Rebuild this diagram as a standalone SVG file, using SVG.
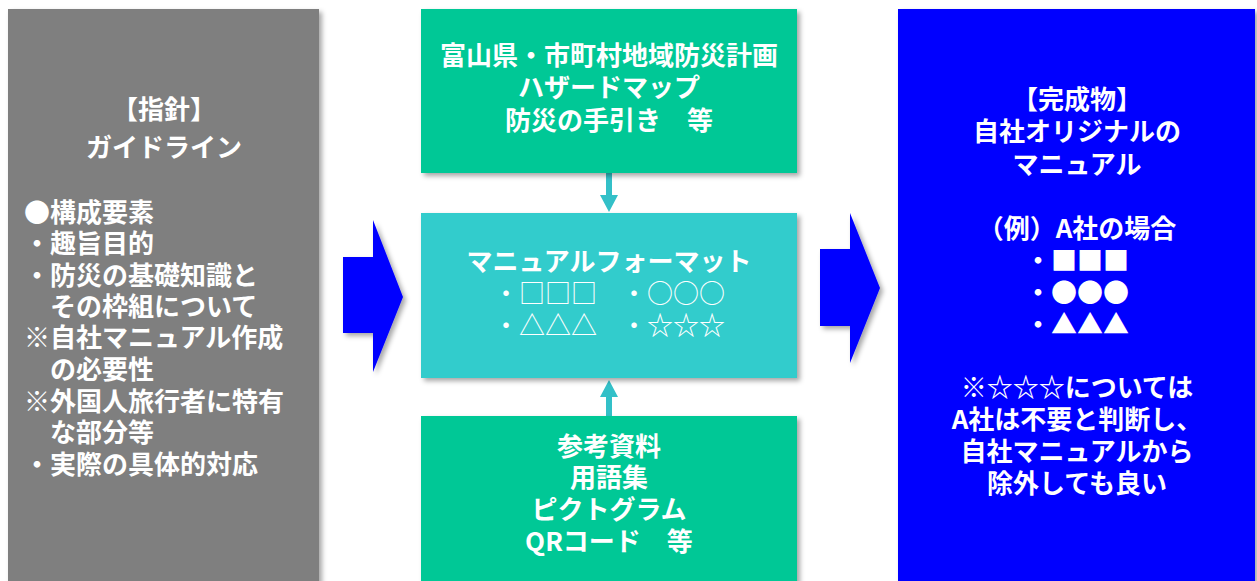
<svg xmlns="http://www.w3.org/2000/svg" width="1257" height="581" viewBox="0 0 1257 581">
<defs>
<filter id="sh" x="-10%" y="-10%" width="130%" height="130%">
<feDropShadow dx="3" dy="3" stdDeviation="2.5" flood-color="#000" flood-opacity="0.35"/>
</filter>
<style>
text{font-family:"Noto Sans CJK JP","Noto Sans CJK SC",sans-serif;fill:#fff;font-size:26px;font-weight:bold}
.c{text-anchor:middle}
.n{font-weight:normal}
.gray{fill:#7f7f7f}
.green{fill:#00c896}
.cyan{fill:#33cccc}
.blue{fill:#0000ff}
.arr{fill:#0000ff}
.small{fill:#33c0c8}
</style>
</defs>
<rect width="1257" height="581" fill="#fff"/>
<g id="connectors">
<polygon class="arr" filter="url(#sh)" points="343,257 373,257 373,220 403,297 373,372 373,333 343,333"/>
<polygon class="arr" filter="url(#sh)" points="820,249 850,249 850,213 880,288 850,363 850,326 820,326"/>
<polygon class="small" points="606,173 612,173 612,195 618,195 609,212 600,195 606,195"/>
<polygon class="small" points="606,416 612,416 612,397 618,397 609,380 600,397 606,397"/>
</g>
<g id="guideline">
<rect class="gray" filter="url(#sh)" x="8" y="9" width="311" height="580"/>
<text class="c"><tspan x="164" y="119">【指針】</tspan><tspan x="164" y="157">ガイドライン</tspan></text>
<text><tspan x="24" y="222">●構成要素</tspan><tspan x="24" y="253">・趣旨目的</tspan><tspan x="24" y="285">・防災の基礎知識と</tspan><tspan x="50" y="316">その枠組について</tspan><tspan x="24" y="347">※自社マニュアル作成</tspan><tspan x="50" y="379">の必要性</tspan><tspan x="24" y="411">※外国人旅行者に特有</tspan><tspan x="50" y="442">な部分等</tspan><tspan x="24" y="474">・実際の具体的対応</tspan></text>
</g>
<g id="plans">
<rect class="green" filter="url(#sh)" x="421" y="9" width="376" height="164"/>
<text class="c"><tspan x="609" y="65">富山県・市町村地域防災計画</tspan><tspan x="609" y="97">ハザードマップ</tspan><tspan x="609" y="130">防災の手引き　等</tspan></text>
</g>
<g id="format">
<rect class="cyan" filter="url(#sh)" x="421" y="213" width="376" height="165"/>
<text class="c" x="609" y="271">マニュアルフォーマット</text>
<text class="n"><tspan x="493" y="303">・□□□</tspan><tspan x="621" y="303">・○○○</tspan><tspan x="493" y="335">・△△△</tspan><tspan x="621" y="335">・☆☆☆</tspan></text>
</g>
<g id="reference">
<rect class="green" filter="url(#sh)" x="421" y="416" width="376" height="175"/>
<text class="c"><tspan x="609" y="456">参考資料</tspan><tspan x="609" y="487">用語集</tspan><tspan x="609" y="519">ピクトグラム</tspan><tspan x="609" y="551">QRコード　等</tspan></text>
</g>
<g id="result">
<rect class="blue" filter="url(#sh)" x="898" y="9" width="357" height="580"/>
<text class="c"><tspan x="1077" y="109">【完成物】</tspan><tspan x="1077" y="141">自社オリジナルの</tspan><tspan x="1077" y="174">マニュアル</tspan></text>
<text class="c" x="1077" y="238">（例）A社の場合</text>
<text><tspan x="1025" y="270">・■■■</tspan><tspan x="1025" y="302">・●●●</tspan><tspan x="1025" y="334">・▲▲▲</tspan></text>
<text class="c"><tspan x="1077" y="397">※☆☆☆については</tspan><tspan x="1077" y="429">A社は不要と判断し、</tspan><tspan x="1077" y="461">自社マニュアルから</tspan><tspan x="1077" y="493">除外しても良い</tspan></text>
</g>
</svg>
